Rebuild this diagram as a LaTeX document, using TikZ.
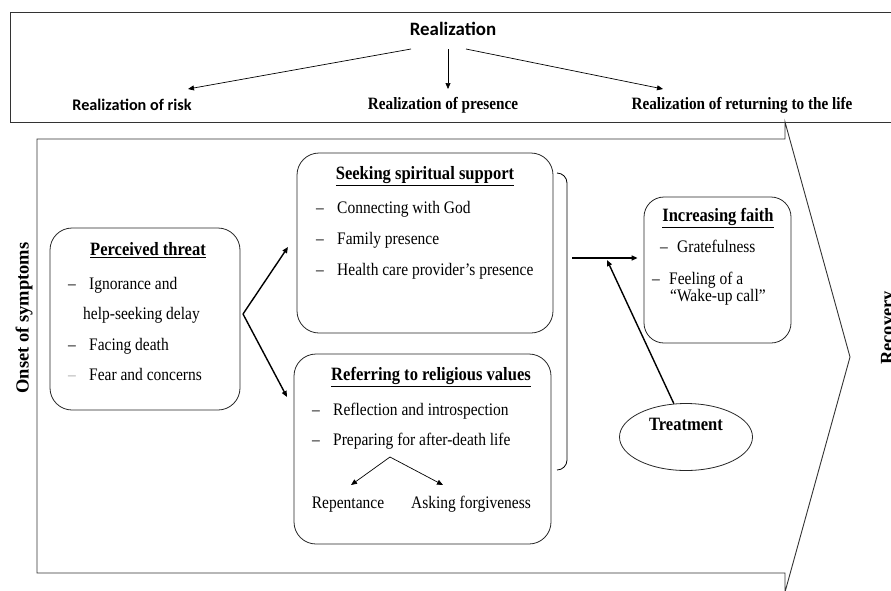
\documentclass[tikz,border=0pt]{standalone}
\usepackage{fontspec}
\setmainfont[FakeStretch=0.88]{Liberation Serif}
\newfontfamily\plainserif{Liberation Serif}
\newfontfamily\carlito{Carlito}
\usetikzlibrary{arrows.meta,shapes.geometric}

\begin{document}
\begin{tikzpicture}[x=1pt,y=-1pt,
    >={Triangle[length=6pt,width=5pt]},
    frame/.style={draw=black!80,line width=0.9pt},
    stage/.style={draw=black!85,line width=0.8pt,rounded corners=22pt},
    txt/.style={inner sep=0pt,anchor=west,text height=0.7em,text depth=0.2em,font=\fontsize{17.6}{20}\selectfont},
    head/.style={inner sep=0pt,text height=0.7em,text depth=0.25em,font=\fontsize{18.8}{21}\selectfont\bfseries},
    toplab/.style={inner sep=0pt,font=\fontsize{17.3}{20}\selectfont\bfseries},
    side/.style={inner sep=0pt,rotate=90,font=\plainserif\fontsize{18.5}{20}\selectfont\bfseries},
    link/.style={->,line width=0.7pt},
    thicklink/.style={->,line width=1.4pt}]

    \useasboundingbox (0,0) rectangle (891,590);

    % realization band
    \draw[frame] (10,12) rectangle (895,122);
    \node[inner sep=0pt,font=\carlito\fontsize{18.9}{21}\selectfont\bfseries] (real) at (453,29) {Realization};
    \node[inner sep=0pt,font=\carlito\fontsize{16.2}{19}\selectfont\bfseries] (risk) at (132,105) {Realization of risk};
    \node[toplab] (presence) at (443,105) {Realization of presence};
    \node[toplab] (returning) at (742,105) {Realization of returning to the life};
    \coordinate (tipRisk) at (188,89);
    \coordinate (tipPres) at (448,89);
    \coordinate (tipRet) at (663,89);
    \draw[link] (411,49) -- (tipRisk);
    \draw[link] (448,49) -- (tipPres);
    \draw[link] (466,49) -- (tipRet);

    % big arrow
    \draw[frame] (37,139) -- (785,139) -- (785,122) -- (850,357) -- (785,592) -- (785,573) -- (37,573) -- cycle;
    \node[side] (onset) at (24,318) {Onset of symptoms};
    \node[side] (recovery) at (889,328) {Recovery};

    % perceived threat
    \node[stage,minimum width=190pt,minimum height=182pt] (threat) at (145,319) {};
    \node[head] (threathead) at (148,253) {\underline{Perceived threat}};
    \node[txt] (td1) at (68,287) {–};
    \node[txt] (t1) at (89,287) {Ignorance and};
    \node[txt] (t1b) at (83,317) {help-seeking delay};
    \node[txt] (td2) at (68,348) {–};
    \node[txt] (t2) at (89,348) {Facing death};
    \node[txt,text=black!35] (td3) at (68,378) {–};
    \node[txt] (t3) at (89,378) {Fear and concerns};

    % seeking spiritual support
    \node[stage,minimum width=256pt,minimum height=180pt] (spirit) at (425,243) {};
    \node[head] (spirithead) at (425,177) {\underline{Seeking spiritual support}};
    \node[txt] (sd1) at (316,211) {–};
    \node[txt] (s1) at (337,211) {Connecting with God};
    \node[txt] (sd2) at (316,242) {–};
    \node[txt] (s2) at (337,242) {Family presence};
    \node[txt] (sd3) at (316,273) {–};
    \node[txt] (s3) at (337,273) {Health care provider’s presence};

    % referring to religious values
    \node[stage,minimum width=257pt,minimum height=190pt] (relig) at (422.5,449) {};
    \node[head] (relighead) at (431,378) {\underline{Referring to religious values}};
    \node[txt] (rd1) at (312,413) {–};
    \node[txt] (r1) at (333,413) {Reflection and introspection};
    \node[txt] (rd2) at (312,443) {–};
    \node[txt] (r2) at (333,443) {Preparing for after-death life};
    \node[txt,anchor=center] (rep) at (348,506) {Repentance};
    \node[txt,anchor=center] (ask) at (471,506) {Asking forgiveness};
    \coordinate (split) at (390,457);
    \draw[link] (split) -- (351,485);
    \draw[link] (split) -- (443,485);

    % bracket round both middle boxes
    \draw[line width=0.8pt,rounded corners=10pt] (557,173) -- (567,173) -- (567,470) -- (557,470);

    % increasing faith
    \node[stage,rounded corners=20pt,minimum width=147pt,minimum height=146pt] (faith) at (717.5,270) {};
    \node[head] (faithhead) at (718,219) {\underline{Increasing faith}};
    \node[txt] (fd1) at (660,250) {–};
    \node[txt] (f1) at (677,250) {Gratefulness};
    \node[txt] (fd2) at (652,282) {–};
    \node[txt] (f2) at (669,282) {Feeling of a};
    \node[txt] (f2b) at (670,299) {“Wake-up call”};

    % treatment
    \node[draw=black!85,line width=0.8pt,ellipse,minimum width=133pt,minimum height=67pt] (treat) at (686,437) {};
    \node[head] (treatlab) at (686,428) {Treatment};

    % connectors
    \coordinate (fork) at (243,314);
    \draw[thicklink] (fork) -- (288,247);
    \draw[thicklink] (fork) -- (287,397);
    \coordinate (join) at (572,258);
    \coordinate (meet) at (607,260);
    \draw[thicklink] (join) -- ([xshift=-6pt]faith.west |- join);
    \draw[thicklink] (treat.110) -- (meet);
\end{tikzpicture}
\end{document}
